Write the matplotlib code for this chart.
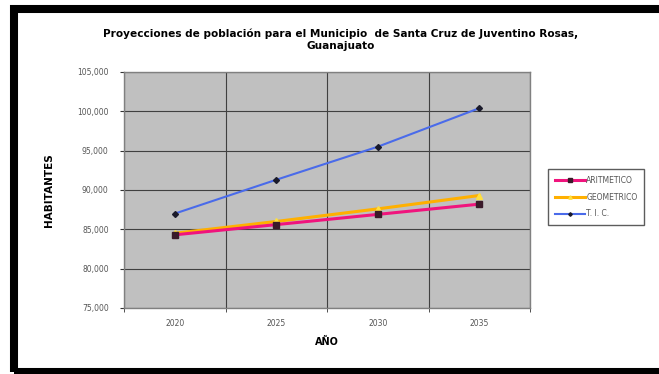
import matplotlib
matplotlib.use("Agg")
import matplotlib.pyplot as plt
from matplotlib.patches import Rectangle
from matplotlib.ticker import FixedLocator, FuncFormatter

years = ["2020", "2025", "2030", "2035"]
aritmetico = [84300, 85600, 86900, 88200]
geometrico = [84500, 86000, 87600, 89300]
tic = [87000, 91300, 95500, 100400]
yticks = [75000, 80000, 85000, 90000, 95000, 100000, 105000]

fig = plt.figure(figsize=(6.59, 3.74), dpi=100)
fig.patch.set_facecolor("white")
ax = fig.add_axes([124/659, 66/374, 406/659, 236/374])
ax.set_facecolor("#C0C0C0")

x = list(range(len(years)))
ax.plot(x, aritmetico, color="#F0147D", lw=2.2, marker="s", ms=4,
        mfc="#3a1a2a", mec="#3a1a2a", label="ARITMETICO", zorder=4)
ax.plot(x, geometrico, color="#FFB000", lw=2.2, marker="^", ms=4,
        mfc="#FFE040", mec="#FFE040", label="GEOMETRICO", zorder=3)
ax.plot(x, tic, color="#4A6BEA", lw=1.5, marker="D", ms=3,
        mfc="#1a1a2a", mec="#1a1a2a", label="T. I. C.", zorder=3)

ax.set_xlim(-0.5, 3.5)
ax.set_ylim(75000, 105000)
ax.set_xticks(x)
ax.set_xticklabels(years)
ax.xaxis.set_minor_locator(FixedLocator([-0.5, 0.5, 1.5, 2.5, 3.5]))
ax.set_yticks(yticks)
ax.yaxis.set_major_formatter(FuncFormatter(lambda v, p: f"{int(v):,}"))
ax.tick_params(axis="x", which="major", length=0, labelsize=5.5, colors="#555555", pad=8)
ax.tick_params(axis="x", which="minor", length=3, color="#333333")
ax.tick_params(axis="y", labelsize=5.5, colors="#555555", length=3, pad=8)
ax.tick_params(axis="y", color="#333333")
ax.grid(True, which="minor", axis="x", color="#404040", lw=0.8)
ax.grid(True, which="major", axis="y", color="#404040", lw=0.8)
ax.set_axisbelow(True)
for s in ax.spines.values():
    s.set_color("#808080")
    s.set_linewidth(1)

ax.set_xlabel("AÑO", fontsize=7, fontweight="bold", labelpad=6)
ax.set_ylabel("HABITANTES", fontsize=7.5, fontweight="bold", labelpad=17)

fig.text(0.517, 0.925, "Proyecciones de población para el Municipio  de Santa Cruz de Juventino Rosas,\nGuanajuato",
         ha="center", va="top", fontsize=7.6, fontweight="bold", linespacing=1.35)

leg = ax.legend(loc="center left", bbox_to_anchor=(1.035, 0.47), fontsize=5.5,
                frameon=True, fancybox=False, edgecolor="#333333",
                handlelength=4, labelspacing=1.0, borderpad=0.9, handletextpad=0.1,
                markerscale=0.6)
for t in leg.get_texts():
    t.set_color("#555555")

fig.patches.append(Rectangle((14/659, 2/374), (670 - 14)/659, (365 - 2)/374,
                             transform=fig.transFigure, fill=False,
                             edgecolor="black", lw=5.8, zorder=10))

fig.savefig("out.png", dpi=100)
